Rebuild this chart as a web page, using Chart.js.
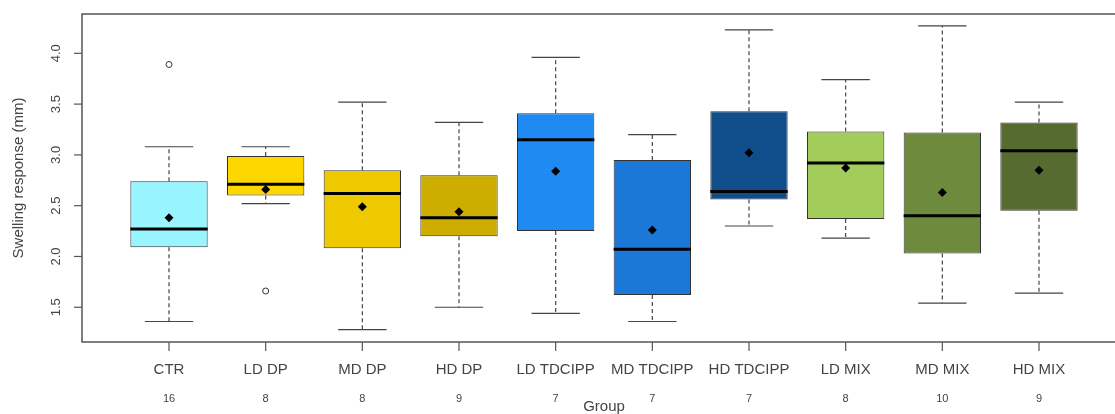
<!DOCTYPE html>
<html>
<head>
<meta charset="utf-8">
<script src="https://cdn.jsdelivr.net/npm/chart.js@4.4.1/dist/chart.umd.min.js"></script>
<style>
  html, body { margin: 0; padding: 0; background: #fff; overflow: hidden; }
  #wrap { width: 1115px; height: 414px; overflow: hidden; }
</style>
</head>
<body>
<div id="wrap"><canvas id="boxChart" width="1140" height="414"></canvas></div>
<script>
// values
const groups = ['CTR', 'LD DP', 'MD DP', 'HD DP', 'LD TDCIPP', 'MD TDCIPP', 'HD TDCIPP', 'LD MIX', 'MD MIX', 'HD MIX'];
const counts = [16, 8, 8, 9, 7, 7, 7, 8, 10, 9];
const whiskerLow  = [1.36, 2.52, 1.28, 1.50, 1.44, 1.36, 2.30, 2.18, 1.54, 1.64];
const q1          = [2.09, 2.60, 2.08, 2.20, 2.25, 1.62, 2.56, 2.37, 2.03, 2.45];
const median      = [2.27, 2.71, 2.62, 2.38, 3.15, 2.07, 2.64, 2.92, 2.40, 3.04];
const q3          = [2.74, 2.99, 2.85, 2.80, 3.41, 2.95, 3.43, 3.23, 3.22, 3.32];
const whiskerHigh = [3.08, 3.08, 3.52, 3.32, 3.96, 3.20, 4.23, 3.74, 4.27, 3.52];
const means       = [2.38, 2.66, 2.49, 2.44, 2.84, 2.26, 3.02, 2.87, 2.63, 2.85];
const outlierGroup = ['CTR', 'LD DP'];
const outlierValue = [3.89, 1.66];
const yTicks = [1.5, 2.0, 2.5, 3.0, 3.5, 4.0];

const boxColors = ['#98F5FF', '#FFD700', '#EEC900', '#CDAD00', '#1E8AF2', '#1B78D8', '#104E8B', '#A2CD5A', '#6E8B3D', '#556B2F'];

const FONT = '"Liberation Sans", Arial, sans-serif';

// build segment lists (null y = break in the line)
const pos = groups.map((g, i) => i + 1);
const whiskerData = [], capData = [], medianData = [];
pos.forEach((x, i) => {
    whiskerData.push({ x, y: q3[i] }, { x, y: whiskerHigh[i] }, { x, y: null },
                     { x, y: q1[i] }, { x, y: whiskerLow[i] }, { x, y: null });
    capData.push({ x: x - 0.25, y: whiskerHigh[i] }, { x: x + 0.25, y: whiskerHigh[i] }, { x, y: null },
                 { x: x - 0.25, y: whiskerLow[i] }, { x: x + 0.25, y: whiskerLow[i] }, { x, y: null });
    medianData.push({ x: x - 0.4, y: median[i] }, { x: x + 0.4, y: median[i] }, { x, y: null });
});

// frame, ticks and all text, drawn R-style from the chart's scales
const rAxes = {
    id: 'rAxes',
    afterDatasetsDraw(chart) {
        const { ctx, chartArea: a, scales: { x, y } } = chart;
        ctx.save();
        ctx.strokeStyle = '#555';
        ctx.lineWidth = 1.5;
        ctx.strokeRect(a.left, a.top, a.right - a.left, a.bottom - a.top);

        ctx.lineWidth = 1.2;
        ctx.fillStyle = '#444';
        ctx.textAlign = 'center';
        ctx.textBaseline = 'middle';

        // y axis
        ctx.font = '13px ' + FONT;
        yTicks.forEach(v => {
            const py = y.getPixelForValue(v);
            ctx.beginPath();
            ctx.moveTo(a.left - 8, py);
            ctx.lineTo(a.left, py);
            ctx.stroke();
            ctx.save();
            ctx.translate(a.left - 26, py);
            ctx.rotate(-Math.PI / 2);
            ctx.fillText(v.toFixed(1), 0, 0);
            ctx.restore();
        });

        // x axis
        pos.forEach((v, i) => {
            const px = x.getPixelForValue(v);
            ctx.beginPath();
            ctx.moveTo(px, a.bottom);
            ctx.lineTo(px, a.bottom + 9);
            ctx.stroke();
            ctx.font = '15px ' + FONT;
            ctx.fillText(groups[i], px, a.bottom + 28);
            ctx.font = '11px ' + FONT;
            ctx.fillText(String(counts[i]), px, a.bottom + 57);
        });

        // titles
        ctx.font = '15px ' + FONT;
        ctx.fillText('Group', (a.left + a.right) / 2, a.bottom + 65);
        ctx.save();
        ctx.translate(19, (a.top + a.bottom) / 2);
        ctx.rotate(-Math.PI / 2);
        ctx.fillText('Swelling response (mm)', 0, 0);
        ctx.restore();
        ctx.restore();
    }
};

new Chart(document.getElementById('boxChart'), {
    type: 'bar',
    data: {
        datasets: [
            {
                label: 'box',
                data: pos.map((x, i) => ({ x, y: [q1[i], q3[i]] })),
                backgroundColor: boxColors,
                borderColor: '#333',
                borderWidth: 1,
                borderSkipped: false,
                barPercentage: 0.8,
                categoryPercentage: 1.0,
                order: 5
            },
            {
                type: 'line',
                label: 'whisker',
                data: whiskerData,
                borderColor: '#444',
                borderWidth: 1.2,
                borderDash: [4, 3],
                pointRadius: 0,
                spanGaps: false,
                order: 4
            },
            {
                type: 'line',
                label: 'cap',
                data: capData,
                borderColor: '#444',
                borderWidth: 1.2,
                pointRadius: 0,
                spanGaps: false,
                order: 3
            },
            {
                type: 'line',
                label: 'median',
                data: medianData,
                borderColor: '#000',
                borderWidth: 3,
                pointRadius: 0,
                spanGaps: false,
                order: 2
            },
            {
                type: 'scatter',
                label: 'mean',
                data: pos.map((x, i) => ({ x, y: means[i] })),
                pointStyle: 'rectRot',
                pointRadius: 4.5,
                backgroundColor: '#000',
                borderColor: '#000',
                borderWidth: 0,
                order: 1
            },
            {
                type: 'scatter',
                label: 'outlier',
                data: outlierGroup.map((g, i) => ({ x: groups.indexOf(g) + 1, y: outlierValue[i] })),
                pointStyle: 'circle',
                pointRadius: 3,
                backgroundColor: '#fff',
                borderColor: '#333',
                borderWidth: 1,
                order: 1
            }
        ]
    },
    options: {
        responsive: false,
        animation: false,
        layout: { padding: { left: 82, right: 14, top: 14, bottom: 72 } },
        plugins: { legend: { display: false }, tooltip: { enabled: false } },
        scales: {
            x: {
                type: 'linear',
                display: false,
                offset: false,
                min: 0.1,
                max: 10.9,
                afterBuildTicks: scale => { scale.ticks = pos.map(v => ({ value: v })); }
            },
            y: {
                type: 'linear',
                display: false,
                min: 1.158,
                max: 4.387
            }
        }
    },
    plugins: [rAxes]
});
</script>
</body>
</html>
